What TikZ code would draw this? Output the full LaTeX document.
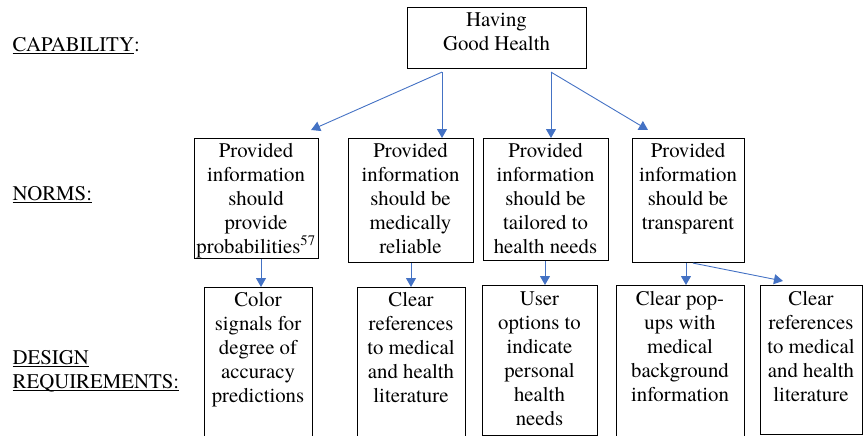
\documentclass[tikz,border=0pt]{standalone}
\usepackage{fontspec}
\setmainfont{TeX Gyre Termes}
\usetikzlibrary{arrows.meta,calc}
\definecolor{arrblue}{HTML}{4472C4}
\newcommand\myul[1]{\setbox0\hbox{#1}\rlap{\rule[-3pt]{\wd0}{1.3pt}}\box0}
\begin{document}
\begin{tikzpicture}[x=1pt,y=-1pt,
  box/.style={draw=black,line width=1.1pt,inner sep=0pt,anchor=north west},
  txt/.style={inner sep=0pt,anchor=north,align=center,font=\rmfamily\fontsize{20.8}{24}\selectfont},
  lbl/.style={inner sep=0pt,anchor=north west,align=left,font=\rmfamily\fontsize{20.8}{24}\selectfont},
  arr/.style={draw=arrblue,line width=0.9pt,-{Triangle[length=9pt,width=10pt]}}]
\useasboundingbox (0,0) rectangle (863,436);
\clip (0,0) rectangle (863,436);
% boxes
\node[box,minimum width=179pt,minimum height=61pt] (top) at (407,7) {};
\node[box,minimum width=124pt,minimum height=120pt] (n1) at (194,138) {};
\node[box,minimum width=125pt,minimum height=124pt] (n2) at (348,138) {};
\node[box,minimum width=125pt,minimum height=122pt] (n3) at (483,138) {};
\node[box,minimum width=112pt,minimum height=124pt] (n4) at (632,138) {};
\node[box,minimum width=108pt,minimum height=170pt] (d1) at (204,287) {};
\node[box,minimum width=108pt,minimum height=170pt] (d2) at (357,287) {};
\node[box,minimum width=115pt,minimum height=150pt] (d3) at (482,285) {};
\node[box,minimum width=128pt,minimum height=170pt] (d4) at (616,285) {};
\node[box,minimum width=102pt,minimum height=149pt] (d5) at (760,285) {};
% texts
\node[txt] (topt) at (496.5,9.2) {\strut Having\\Good Health};
\node[txt] (n1t) at (256,140.2) {\strut Provided\\information\\should\\provide\\probabilities\textsuperscript{57}};
\node[txt] (n2t) at (410.5,140.2) {\strut Provided\\information\\should be\\medically\\reliable};
\node[txt] (n3t) at (545.5,140.2) {\strut Provided\\information\\should be\\tailored to\\health needs};
\node[txt] (n4t) at (688,140.2) {\strut Provided\\information\\should be\\transparent};
\node[txt] (d1t) at (258,289.2) {\strut Color\\signals for\\degree of\\accuracy\\predictions};
\node[txt] (d2t) at (411,289.2) {\strut Clear\\references\\to medical\\and health\\literature};
\node[txt] (d3t) at (539.5,288.2) {\strut User\\options to\\indicate\\personal\\health\\needs};
\node[txt] (d4t) at (680,288.2) {\strut Clear pop-\\ups with\\medical\\background\\information};
\node[txt] (d5t) at (811,288.2) {\strut Clear\\references\\to medical\\and health\\literature};
% labels
\node[lbl] (cap) at (12.5,34.2) {\strut\myul{CAPABILITY}:};
\node[lbl] (norms) at (12.5,183.2) {\strut\myul{NORMS:}};
\node[lbl] (design) at (12.5,347.2) {\strut\myul{DESIGN}\\\myul{REQUIREMENTS:}};
% arrows
\draw[arr] ($(top.south west)+(35,3)$) -- ($(n1.north east)+(-8,-8)$);
\draw[arr] ($(top.south west)+(35,3)$) -- ($(n2.north west)+(94,0)$);
\draw[arr] ($(top.south west)+(144,3)$) -- ($(n3.north west)+(68,0)$);
\draw[arr] ($(top.south west)+(144,3)$) -- ($(n4.north west)+(16,-8)$);
\draw[arr] ($(n1.south west)+(67,0)$) -- ($(d1.north west)+(57,0)$);
\draw[arr] ($(n2.south west)+(63,0)$) -- ($(d2.north west)+(54,0)$);
\draw[arr] ($(n3.south west)+(62,0)$) -- ($(d3.north west)+(63,0)$);
\draw[arr] ($(n4.south west)+(54,0)$) -- ($(d4.north west)+(70,0)$);
\draw[arr] ($(n4.south west)+(61,0)$) -- ($(d5.north west)+(23,-4)$);
\end{tikzpicture}
\end{document}
